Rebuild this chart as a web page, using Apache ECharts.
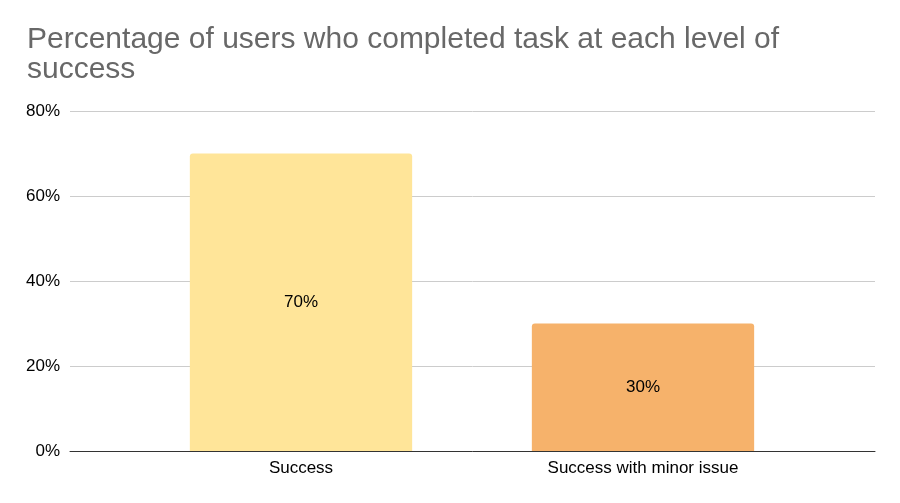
<!DOCTYPE html>
<html>
<head>
<meta charset="utf-8">
<script src="https://cdn.jsdelivr.net/npm/echarts@6/dist/echarts.min.js"></script>
<style>
  html, body { margin: 0; padding: 0; background: #fff; }
  #chart-dev { width: 900px; height: 503px; }
</style>
</head>
<body>
<div id="chart-dev"></div>
<script>
var categories = ['Success', 'Success with minor issue'];
var values = [70, 30];
var barColors = ['#ffe599', '#f6b26b'];
var yTicks = [0, 20, 40, 60, 80];

var dom = document.getElementById('chart-dev');
var myChart = echarts.init(dom, null, { renderer: 'canvas' });

var font = 'Arial, "Liberation Sans", sans-serif';

var option = {
    animation: false,
    textStyle: { fontFamily: font },
    title: {
        text: 'Percentage of users who completed task at each level of\nsuccess',
        left: 22,
        top: 20,
        textStyle: {
            color: '#686868',
            fontSize: 30,
            fontWeight: 'normal',
            lineHeight: 30,
            fontFamily: font
        }
    },
    grid: [
        { left: 70, right: 25, top: 111, bottom: 52 },
        { left: 130, right: 86, top: 111, bottom: 52 }
    ],
    xAxis: [
        {
            gridIndex: 0,
            type: 'value',
            min: 0,
            max: 1,
            axisLine: { show: true, onZero: false, lineStyle: { color: '#333', width: 1 } },
            axisTick: { show: false },
            axisLabel: { show: false },
            splitLine: { show: false }
        },
        {
            gridIndex: 1,
            type: 'category',
            data: categories,
            axisLine: { show: false },
            axisTick: { show: false },
            axisLabel: { color: '#000', fontSize: 17, margin: 9, fontFamily: font }
        }
    ],
    yAxis: [
        {
            gridIndex: 0,
            type: 'value',
            min: yTicks[0],
            max: yTicks[yTicks.length - 1],
            interval: 20,
            axisLine: { show: false },
            axisTick: { show: false },
            axisLabel: { formatter: '{value}%', color: '#000', fontSize: 17, margin: 10, fontFamily: font },
            splitLine: { lineStyle: { color: '#cccccc', width: 1 } }
        },
        {
            gridIndex: 1,
            type: 'value',
            min: yTicks[0],
            max: yTicks[yTicks.length - 1],
            show: false,
            splitLine: { show: false }
        }
    ],
    series: [
        {
            type: 'bar',
            xAxisIndex: 1,
            yAxisIndex: 1,
            barWidth: '65%',
            data: values.map(function (v, i) {
                return { value: v, itemStyle: { color: barColors[i] } };
            }),
            itemStyle: { borderRadius: [3, 3, 0, 0] },
            label: {
                show: true,
                position: 'inside',
                formatter: '{c}%',
                color: '#000',
                fontSize: 17,
                fontFamily: font
            }
        }
    ]
};

myChart.setOption(option);
window.addEventListener('resize', myChart.resize);
</script>
</body>
</html>
